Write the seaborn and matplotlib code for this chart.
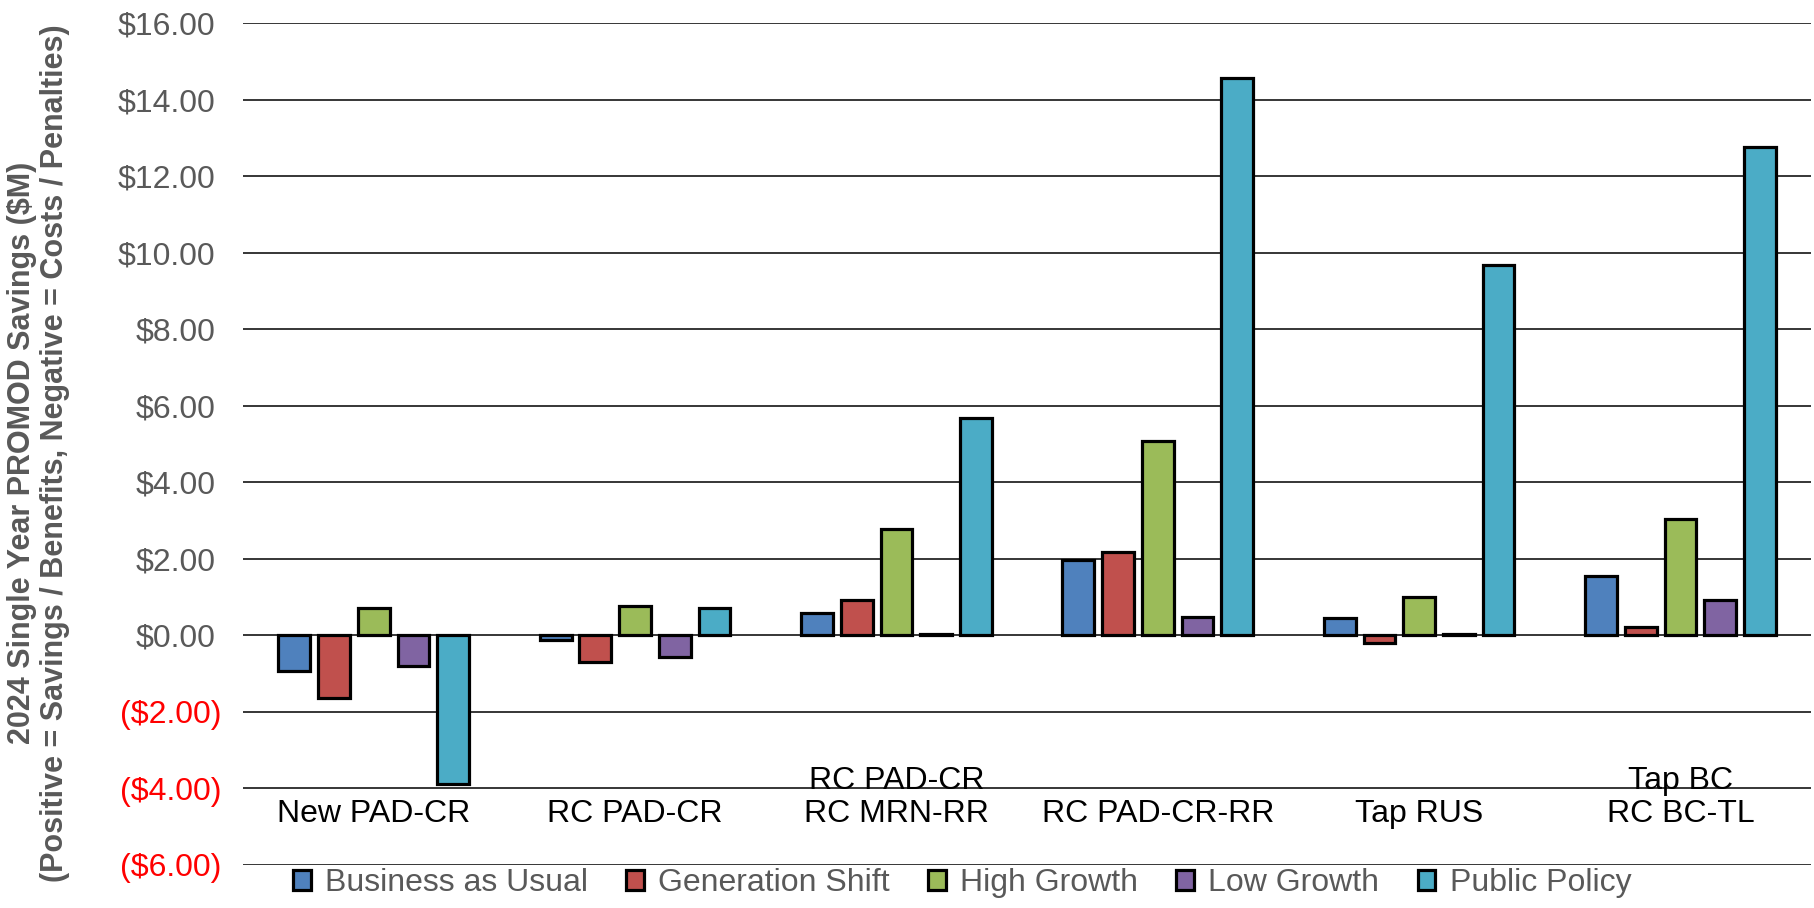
import matplotlib
matplotlib.use("Agg")
import matplotlib.pyplot as plt
import matplotlib.transforms as mtransforms
import seaborn as sns
import pandas as pd

# Projects and scenarios
projects = ["New PAD-CR", "RC PAD-CR", "RC PAD-CR\nRC MRN-RR",
            "RC PAD-CR-RR", "Tap RUS", "Tap BC\nRC BC-TL"]
scenarios = ["Business as Usual", "Generation Shift", "High Growth",
             "Low Growth", "Public Policy"]

# Single-year savings per scenario ($M)
business_as_usual = [-0.93, -0.12, 0.58, 1.96, 0.45, 1.54]
generation_shift = [-1.64, -0.70, 0.93, 2.18, -0.21, 0.22]
high_growth = [0.71, 0.77, 2.78, 5.09, 0.99, 3.05]
low_growth = [-0.81, -0.57, 0.03, 0.49, 0.04, 0.92]
public_policy = [-3.88, 0.72, 5.67, 14.55, 9.67, 12.76]

yticks = [-6, -4, -2, 0, 2, 4, 6, 8, 10, 12, 14, 16]

series = [business_as_usual, generation_shift, high_growth, low_growth, public_policy]
df = pd.DataFrame({
    "Project": [p for _ in scenarios for p in projects],
    "Scenario": [s for s in scenarios for _ in projects],
    "Savings": [v for vals in series for v in vals],
})

palette = ["#4F81BD", "#C0504D", "#9BBB59", "#8064A2", "#4BACC6"]

sns.set_theme(style="white")
plt.rcParams["font.family"] = ["Liberation Sans", "DejaVu Sans"]

fig = plt.figure(figsize=(18.15, 9.08), dpi=100)
ax = fig.add_axes([0.1339, 0.0474, 0.864, 0.9273])

sns.barplot(data=df, x="Project", y="Savings", hue="Scenario",
            hue_order=scenarios, order=projects, palette=palette,
            width=0.76, gap=0.2, edgecolor="black", linewidth=2.3,
            saturation=1, legend=True, ax=ax, zorder=3)

ax.set_ylim(-6, 16)
ax.set_xlim(-0.5, len(projects) - 0.5)
ax.yaxis.grid(True, color="black", linewidth=1.1, zorder=0)
ax.xaxis.grid(False)
ax.set_axisbelow(True)
for sp in ax.spines.values():
    sp.set_visible(False)


def money(v):
    return f"(${abs(v):.2f})" if v < 0 else f"${v:.2f}"


ax.set_yticks(yticks, [money(v) for v in yticks])
ax.tick_params(axis="y", length=0, pad=20, labelsize=23)

# Project names sit inside the plot, just under the -$4 line
ax.set_xticks(range(len(projects)))
ax.set_xticklabels([])
ax.tick_params(axis="x", length=0)
ax.set_xlabel("")
for i, name in enumerate(projects):
    ax.text(i, -5.05, name, ha="center", va="bottom", fontsize=23,
            color="black", linespacing=1.12, multialignment="center")

ax.set_ylabel("2024 Single Year PROMOD Savings ($M)\n"
              "(Positive = Savings / Benefits, Negative = Costs / Penalties)",
              fontsize=22, fontweight="bold", color="#595959",
              linespacing=1.12, va="center", ha="center")
ax.yaxis.set_label_coords(-0.1305, 0.489)

# Negative labels: red, nudged right so the closing parenthesis overhangs
nudge = mtransforms.ScaledTranslation(0.06, 0, fig.dpi_scale_trans)
for lab, v in zip(ax.get_yticklabels(), yticks):
    lab.set_color("#FF0000" if v < 0 else "#595959")
    if v < 0:
        lab.set_transform(lab.get_transform() + nudge)

handles, labels = ax.get_legend_handles_labels()
ax.get_legend().remove()
leg = fig.legend(handles, labels, loc="center left",
                 bbox_to_anchor=(0.1614, 0.0275), ncol=5, frameon=False,
                 fontsize=23, handlelength=0.55, handleheight=0.6,
                 handletextpad=0.45, columnspacing=1.2, borderpad=0,
                 borderaxespad=0)
for t in leg.get_texts():
    t.set_color("#595959")

fig.savefig("out.png", dpi=100)
